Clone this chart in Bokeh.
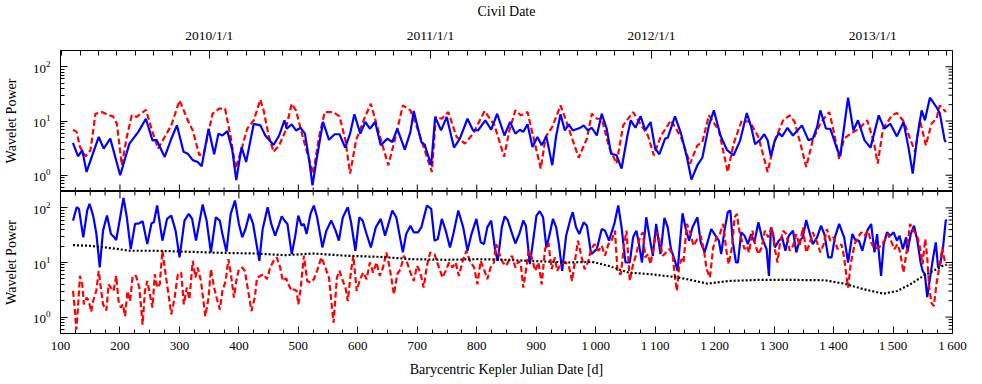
from bokeh.plotting import figure
from bokeh.models import Range1d, FixedTicker, LinearAxis, LogAxis
from bokeh.layouts import column
from bokeh.embed import file_html
from bokeh.resources import INLINE

FONT = "Liberation Serif"

# ---------------- data ----------------
x_ticks = [100, 200, 300, 400, 500, 600, 700, 800, 900, 1000, 1100, 1200, 1300, 1400, 1500, 1600]
x_minor_step = 25
civil_tick_days = [350, 722, 1094, 1466]
civil_tick_labels = ["2010/1/1", "2011/1/1", "2012/1/1", "2013/1/1"]
y_ticks = [1, 10, 100]

top_blue_day = [121, 129.4, 136.6, 143.8, 164.3, 172.6, 183.7, 200.4, 215.9, 230.9, 243.6, 254.7, 261.4, 275.2, 286.3, 295.8, 306.9, 314, 322.4, 330.7, 337.4, 349, 358.4, 365.6, 372.3, 380.6, 388.9, 395.6, 404.5, 412.2, 425, 436.1, 444.4, 458.3, 467.7, 476.6, 480.5, 488.8, 496, 503.8, 511, 518.2, 523.8, 530.4, 541.5, 551.5, 561, 569.2, 578.7, 587, 594.2, 604.2, 612.5, 620.3, 629.1, 638.6, 649.6, 658, 666.3, 679, 688.5, 694, 706.8, 712.3, 723.4, 730, 740, 749.5, 761.7, 771.6, 784.4, 793.8, 802.2, 814.4, 824.3, 834.3, 846.5, 856, 864.9, 872.6, 878.2, 885.4, 893.7, 902, 909.2, 917, 927, 933.6, 940.9, 948.1, 954.7, 961.4, 974.1, 979.7, 986.9, 993.5, 1001.9, 1010.2, 1018.5, 1025.7, 1035.1, 1043.5, 1053.4, 1059, 1066.8, 1075.6, 1083.4, 1092.3, 1100, 1107.2, 1116.7, 1121.1, 1133.3, 1143.3, 1153.3, 1161, 1171, 1179.3, 1190.4, 1198.7, 1209.8, 1220.9, 1232, 1243, 1254.1, 1261.4, 1268, 1276.3, 1283.5, 1289.1, 1294.6, 1301.3, 1308, 1313.5, 1322.4, 1331.8, 1346.8, 1357.9, 1365.1, 1372.3, 1377.8, 1387.3, 1394.5, 1406.7, 1411.1, 1418.9, 1424.4, 1433.3, 1441.1, 1452.1, 1462.1, 1476, 1485.4, 1495.4, 1506.5, 1517.6, 1525.9, 1533.1, 1540.9, 1548.1, 1553.6, 1562, 1573, 1578.6, 1586.9, 1589]
top_blue_pow = [3.94, 2.24, 2.88, 1.15, 5.08, 3.1, 4.73, 1.0, 3.83, 6.3, 11.0, 4.4, 4.5, 2.17, 4.7, 8.3, 2.7, 2.5, 1.9, 1.76, 1.46, 7.2, 2.44, 5.85, 5.4, 6.5, 2.88, 0.81, 3.3, 1.76, 8.9, 8.3, 5.4, 3.6, 5.4, 10.3, 7.2, 8.7, 6.7, 7.5, 5.85, 1.89, 0.65, 1.89, 9.6, 4.5, 5.7, 5.7, 3.23, 5.85, 13.3, 5.85, 9.6, 7.2, 9.6, 3.56, 4.73, 4.1, 7.2, 2.97, 6.3, 15.3, 4.1, 3.67, 1.53, 11.9, 6.7, 11.9, 3.23, 4.73, 11.0, 6.7, 6.7, 10.3, 6.9, 13.6, 5.4, 9.6, 5.85, 6.9, 6.3, 8.7, 3.33, 5.08, 3.56, 5.2, 1.53, 5.4, 13.3, 6.7, 8.7, 6.7, 7.5, 8.3, 6.7, 7.5, 5.4, 13.6, 7.2, 2.5, 2.33, 1.33, 5.4, 10.3, 7.5, 12.2, 6.7, 9.6, 3.1, 2.44, 4.73, 4.9, 12.2, 6.0, 2.17, 0.83, 1.53, 2.1, 8.3, 15.7, 5.4, 2.9, 2.33, 4.4, 14, 7.8, 3.72, 4.5, 5.7, 4.4, 2.24, 4.4, 6.0, 5.2, 7.5, 5.4, 8.3, 4.4, 4.73, 7.8, 15.7, 7.2, 7.2, 2.88, 2.24, 9.6, 26.9, 6.7, 10.3, 4.4, 3.23, 12.7, 7.2, 8.9, 5.2, 9.6, 3.3, 1.07, 5.2, 15.7, 10.3, 26.9, 18.1, 14, 4.4, 4.1]

top_red_day = [121, 127.2, 132.7, 142.1, 150.5, 158.8, 169.9, 181, 188.2, 194.8, 203.1, 211.5, 219.8, 228.1, 243.6, 254.7, 264.2, 275.2, 286.3, 300.2, 314.1, 322.4, 333.5, 341.8, 355.7, 366.8, 376.7, 386.2, 394.5, 405.6, 413.9, 425, 436.1, 441.6, 450, 458.3, 467.7, 477.7, 488.8, 496, 508.2, 524.9, 534.8, 544.3, 558.1, 569.2, 579.2, 587, 597, 610.8, 621.9, 635.8, 651.3, 663.5, 675.7, 688.5, 702.3, 724.5, 731.2, 741.2, 752.2, 766.1, 780, 793.8, 813.3, 829.9, 846, 854.9, 864.9, 874.3, 885.4, 896.5, 907.6, 915.9, 927, 940.9, 952, 971.4, 985.2, 993.5, 1001.9, 1010.2, 1022.4, 1035.1, 1046.2, 1062.9, 1071.2, 1087.8, 1097.8, 1110, 1126.6, 1143.3, 1158.8, 1171, 1179.3, 1190.4, 1207.1, 1222, 1232, 1245.8, 1259.7, 1273.6, 1289.1, 1301.3, 1315.2, 1326.2, 1334.6, 1345.7, 1354, 1365.1, 1378.9, 1392.8, 1401.1, 1409.4, 1417.8, 1428.8, 1442.7, 1456.6, 1467.7, 1474.3, 1483.2, 1498.2, 1506.5, 1517.6, 1528.7, 1537, 1545.3, 1555.3, 1564.7, 1573, 1578.6, 1589]
top_red_pow = [6.9, 6.3, 3.33, 2.24, 2.88, 13.6, 14.6, 12.7, 12.2, 8.9, 1.53, 5.08, 12.7, 11.9, 16.1, 6.3, 3.1, 5.08, 8.3, 24, 10.3, 6.7, 2.33, 2.7, 13.6, 16.9, 16.9, 5.08, 1.33, 3.33, 7.2, 10.3, 24.7, 15.7, 5.4, 2.7, 3.56, 6.3, 20.8, 15.7, 4.73, 1.07, 5.08, 14.6, 14.6, 12.2, 4.4, 1.07, 4.4, 11.0, 20.8, 5.85, 1.53, 5.08, 19.4, 15.7, 6.3, 1.15, 11.9, 11.0, 14.6, 5.08, 3.83, 5.85, 15.3, 8.3, 2.2, 6.7, 15.7, 12.7, 14.6, 4.4, 1.33, 5.08, 7.8, 19.4, 8.9, 2.1, 4.73, 13.6, 11.0, 11.0, 3.33, 1.64, 8.3, 14.6, 10.3, 5.4, 2.33, 5.4, 10.3, 5.08, 1.64, 3.56, 4.1, 12.7, 6.7, 1.15, 3.83, 10.3, 9.6, 5.08, 1.15, 4.4, 10.3, 12.7, 9.6, 3.33, 1.42, 4.4, 9.6, 14.6, 5.85, 2.02, 4.73, 5.85, 7.2, 10.3, 4.1, 1.64, 7.2, 12.7, 14, 10, 4.73, 2.7, 10.3, 3.56, 8.9, 11.0, 19.4, 14.6]

bot_blue_day = [121.1, 127.2, 131, 138.3, 144.9, 148.8, 154.9, 160.4, 166, 171.5, 178.2, 184.8, 190.4, 193.7, 200.4, 205.9, 211.5, 218.1, 225.3, 232.5, 238.1, 245.9, 253.1, 257, 262.5, 271.4, 279.1, 286.3, 293.5, 300.2, 308.5, 315.7, 321.3, 327.9, 339, 345.7, 352.9, 361.2, 367.9, 372.3, 379, 386.2, 393.4, 400, 405.6, 411.1, 417.8, 423.9, 434.4, 440, 448.3, 454.4, 461, 467.7, 472, 477.7, 481.6, 488.8, 494.4, 499.9, 505.4, 509.3, 513.8, 520.4, 526, 531.5, 540.4, 547, 555.4, 562.6, 568.1, 574.8, 583.1, 588.6, 595.9, 602.5, 608.1, 614.7, 621.9, 630.2, 638.6, 645.8, 658, 664.6, 675.7, 681.3, 688.5, 694, 701.2, 706.8, 716.2, 723.4, 729, 734.5, 741.2, 747.8, 755, 760.6, 768.9, 777.2, 784.4, 791.1, 799.4, 806.6, 812.1, 817.7, 824.3, 831, 835.4, 842.1, 847, 852, 857.7, 864.9, 871.5, 878.2, 882.6, 889.3, 894.8, 900.4, 905.9, 911.5, 917, 921.4, 928.1, 933.6, 938.1, 943.6, 950.3, 957.5, 961.4, 966.9, 972.5, 979.7, 985.2, 992.4, 1001.9, 1010.2, 1015.7, 1022.4, 1031.3, 1037.9, 1043.5, 1050.1, 1057.3, 1062.9, 1068.4, 1072.3, 1077.8, 1085, 1090.6, 1096.1, 1101.7, 1108.9, 1115.6, 1121.1, 1126.6, 1133.3, 1137.7, 1146, 1151.6, 1157.1, 1162.7, 1171, 1176.6, 1183.2, 1188.8, 1194.3, 1201.5, 1207.1, 1211, 1216.5, 1222.1, 1226.5, 1230.3, 1235.8, 1239.2, 1244.7, 1250.3, 1255.8, 1261.4, 1266.9, 1273.6, 1280.2, 1287.4, 1291.3, 1294.6, 1298.5, 1301.3, 1308, 1313.5, 1319, 1324.6, 1331.8, 1337.3, 1342.9, 1348.4, 1354, 1359.5, 1365.1, 1372.3, 1378.9, 1384.5, 1391.1, 1396.7, 1402.2, 1409.4, 1417.8, 1424.4, 1431.6, 1437.2, 1442.7, 1448.3, 1456.6, 1463.2, 1468.8, 1473.2, 1479.9, 1484.3, 1489.9, 1495.4, 1501, 1506.5, 1510.9, 1516.5, 1522, 1524.2, 1529.8, 1535.3, 1540.9, 1546.4, 1549.7, 1553.6, 1557.5, 1561.9, 1567.5, 1571.9, 1575.8, 1579.7, 1584.1, 1588.6, 1590.8]
bot_blue_pow = [58.5, 103, 95.7, 28.9, 89.6, 118.5, 72.3, 33.2, 8.1, 38.3, 72.3, 33.2, 28.9, 25.8, 67.3, 152.8, 67.3, 17.6, 50.8, 52.2, 56.9, 21.7, 52.2, 54.5, 110.4, 25.1, 62.8, 72.3, 38.3, 12.4, 58.5, 77.6, 62.8, 25.1, 114.8, 58.5, 15.3, 67.3, 58.5, 33.2, 15.9, 77.6, 136.5, 50.8, 28.9, 41.1, 77.6, 50.8, 10.7, 41.1, 103, 50.8, 31, 50, 70, 56.9, 50.8, 14.2, 28.9, 72.3, 47.3, 50.8, 33.2, 77.6, 110.4, 67.3, 18.9, 38.3, 58.5, 38.3, 25.1, 67.3, 103, 54.5, 16.4, 67.3, 58.5, 33.2, 18.9, 44, 62.8, 31, 89.6, 67.3, 15.3, 33.2, 47.3, 35.7, 35.7, 44, 110.4, 95.7, 25.1, 26.9, 62.8, 38.3, 18.9, 33.2, 89.6, 44, 16.4, 33.2, 62.8, 23.4, 21.7, 44, 58.5, 16.4, 10.7, 44, 70, 60, 38.3, 22.3, 33.2, 58.5, 47.3, 9.3, 25.1, 72.3, 86.8, 67.3, 18.9, 28.9, 62.8, 44, 21.7, 7.03, 31, 62.8, 83.3, 44, 33.2, 54.5, 47.3, 14.2, 17.6, 41.1, 38.3, 25.1, 50.8, 110.4, 44, 10, 10, 28.9, 38.3, 23.4, 10, 67.3, 28.9, 13.2, 50.8, 14.2, 65.4, 44, 17.6, 10.7, 7.03, 79.8, 41.1, 25.1, 44, 67.3, 23.4, 15.3, 25.1, 41.1, 31, 25.1, 14.2, 38.3, 83.3, 89.6, 25.1, 10, 10, 35.7, 31, 21.7, 33.2, 23.4, 54.5, 26.9, 17.6, 5.67, 44, 33.2, 18.9, 25.1, 28.9, 16.4, 31, 38.3, 15.3, 25.1, 28.9, 60, 35.7, 21.7, 28.9, 47.3, 33.2, 12.4, 12.4, 28.9, 50.8, 28.9, 10, 33.2, 25.1, 25.1, 16.4, 38.3, 50.8, 15.3, 33.2, 5.67, 21.7, 35.7, 31, 35.7, 25.1, 31, 17.6, 28.9, 15.3, 33.2, 47.3, 25.1, 10, 7.03, 6.1, 2.33, 4.94, 12.4, 23.4, 8.1, 9.6, 18.9, 58.5, 60]

bot_red_day = [121.1, 123.8, 126.6, 129.4, 132.7, 136.6, 139.4, 143.8, 147.7, 151.6, 154.9, 160.4, 164.3, 167.1, 171.5, 177.1, 181, 184.8, 189.3, 193.7, 197.6, 201.5, 204.8, 208.7, 212.6, 217, 221.4, 227, 232.5, 238.1, 242, 245.9, 250.3, 254.7, 258.6, 262.5, 266.9, 271.4, 275.2, 280.8, 286.3, 291.9, 297.4, 303, 307.4, 312.4, 316.8, 322.4, 326.8, 330.7, 336.2, 343.5, 349, 352.9, 358.4, 364, 367.9, 372.3, 377.8, 382.3, 386.2, 391.7, 395.6, 400, 405.6, 410, 415.6, 421.1, 426.7, 430.5, 436.1, 441.6, 447.2, 452.7, 458.3, 463.8, 469.4, 473.8, 479.4, 483.3, 488.8, 492.7, 497.1, 499.9, 503.8, 509.3, 514.9, 520.4, 526, 531.5, 538.7, 544.3, 551.5, 555.4, 559.2, 564.8, 569.2, 573.7, 579.2, 583.1, 588.6, 592.5, 598.1, 603.6, 609.2, 614.7, 620.3, 625.8, 631.3, 636.9, 642.4, 648, 653.5, 660.7, 666.3, 671.8, 677.4, 682.9, 688.5, 694, 699.6, 705.1, 710.7, 716.2, 721.7, 729, 734.5, 742.3, 747.8, 753.4, 758.9, 764.4, 770, 777.2, 782.8, 788.3, 795.5, 801.1, 806.6, 812.1, 817.7, 823.2, 828.8, 832.7, 838.2, 843.8, 849.3, 853.8, 859.3, 864.9, 870.4, 874.3, 878.2, 882.6, 887.1, 892.6, 898.2, 903.7, 909.2, 914.8, 920.3, 925.9, 931.4, 935.3, 940.9, 949.2, 954.7, 960.3, 964.7, 970.2, 975.8, 981.3, 986.9, 992.4, 998, 1004.6, 1010.2, 1015.7, 1021.3, 1026.8, 1032.4, 1036.8, 1042.3, 1047.9, 1051.8, 1057.3, 1062.9, 1068.4, 1074, 1079.5, 1083.4, 1087.8, 1092.3, 1097.8, 1103.4, 1107.2, 1112.8, 1118.3, 1123.9, 1129.4, 1133.3, 1136.6, 1140.5, 1144.4, 1147.7, 1153.3, 1158.8, 1164.4, 1171, 1176.6, 1182.1, 1186.5, 1192.1, 1197.6, 1203.2, 1208.7, 1214.3, 1219.8, 1223.6, 1229.2, 1233.6, 1237.5, 1241.4, 1245.8, 1250.3, 1254.1, 1258, 1263.6, 1268, 1273.6, 1279.1, 1284.6, 1290.2, 1295.7, 1301.3, 1305.7, 1309.6, 1315.2, 1320.7, 1326.2, 1331.8, 1337.3, 1342.9, 1348.4, 1354, 1359.5, 1365.1, 1372.3, 1377.8, 1383.4, 1388.9, 1394.5, 1400, 1406.7, 1413.3, 1417.8, 1420.5, 1424.4, 1428.8, 1435.5, 1441.1, 1446.6, 1452.1, 1457.7, 1463.2, 1468.8, 1474.3, 1479.9, 1485.4, 1491, 1496.5, 1502.1, 1507.6, 1512, 1517.6, 1523.1, 1528.7, 1534.2, 1539.8, 1545.3, 1549.7, 1554.2, 1557.5, 1560.8, 1564.7, 1568.6, 1573, 1578.6, 1583, 1586.9, 1589.7]
bot_red_pow = [3.01, 1.49, 0.59, 1.49, 5.68, 3.99, 1.71, 2.27, 1.97, 1.25, 1.97, 3.1, 7.03, 3.99, 1.71, 1.33, 3.99, 3.47, 3.01, 5.68, 1.97, 1.49, 1.71, 1.04, 3.01, 1.97, 5.68, 5.68, 3.47, 0.73, 3.01, 4.6, 2.61, 1.49, 6.1, 3.47, 3.99, 16.4, 8.1, 3.01, 1.12, 2.27, 6.1, 6.55, 1.71, 3.47, 2.11, 10.7, 5.3, 8.1, 4.6, 1.04, 2.27, 7.54, 3.47, 1.97, 1.38, 3.01, 4.6, 11.5, 6.55, 2.27, 4.6, 7.54, 8.1, 7.03, 3.01, 1.29, 2.27, 5.3, 5.68, 6.1, 4.94, 8.1, 10.7, 12.4, 8.1, 4.6, 5.15, 3.99, 3.01, 3.23, 3.01, 1.71, 3.23, 13.3, 4.6, 4.28, 4.94, 7.03, 12.4, 8.7, 5.3, 1.97, 0.79, 5.3, 7.03, 4.94, 3.47, 1.97, 7.03, 13.3, 3.01, 4.94, 6.55, 4.94, 10, 6.55, 10, 5.68, 8.1, 15.3, 8.1, 2.61, 6.1, 7.54, 13.3, 10, 6.55, 4.6, 8.7, 6.55, 3.47, 8.7, 15.3, 14.2, 9.3, 5.3, 7.03, 10, 8.1, 10, 5.68, 11.5, 16.4, 10.7, 8.1, 3.99, 10.7, 7.54, 4.94, 8.1, 10, 21.7, 14.2, 10, 8.7, 10.7, 13.3, 8.1, 10.7, 8.7, 3.47, 7.03, 16.4, 12.4, 7.03, 10, 3.99, 17.6, 23.4, 7.54, 12.4, 7.03, 9.3, 10, 8.7, 4.6, 10, 25.1, 13.3, 7.54, 10, 17.6, 21.7, 16.4, 20.2, 13.3, 21.7, 25.1, 38.3, 6.55, 6.1, 21.7, 38.3, 4.6, 9.3, 14.2, 28.9, 35.7, 12.4, 14.2, 9.3, 21.7, 35.7, 25.1, 13.3, 15.3, 17.6, 14.2, 5.3, 3.01, 8.7, 11.5, 10, 50.8, 35.7, 20.2, 26.9, 31, 16.4, 7.54, 5.3, 18.9, 28.9, 33.2, 50.8, 16.4, 9.3, 18.9, 67.3, 77.6, 38.3, 25.1, 17.6, 20.2, 15.3, 38.3, 21.7, 14.2, 18.9, 38.3, 28.9, 44, 17.6, 10, 21.7, 38.3, 33.2, 16.4, 20.2, 33.2, 20.2, 44, 15.3, 21.7, 35.7, 23.4, 15.3, 21.7, 41.1, 25.1, 28.9, 17.6, 21.7, 12.4, 7.03, 3.47, 9.3, 21.7, 28.9, 35.7, 31, 38.3, 23.4, 17.6, 18.9, 20.2, 25.1, 33.2, 25.1, 17.6, 21.7, 15.3, 6.55, 16.4, 50.8, 38.3, 33.2, 18.9, 9.3, 26.9, 12.4, 3.47, 1.83, 1.59, 3.99, 9.3, 18.9, 10.7, 8.7]

bot_black_day = [121, 150, 184, 217, 261, 317, 372, 428, 478, 525, 580, 636, 691, 747, 802, 852, 888, 955, 994, 1021, 1055, 1093, 1132, 1154, 1188, 1226, 1274, 1329, 1385, 1418, 1451, 1484, 1507, 1529, 1551, 1573, 1587]
bot_black_pow = [20.8, 20.2, 18.4, 16.4, 16.4, 15.7, 15.0, 14.6, 13.6, 14.6, 13.3, 12.7, 11.5, 11.2, 11.5, 11.2, 10.7, 10.0, 10.3, 8.7, 6.55, 6.1, 5.45, 4.94, 4.1, 4.6, 4.8, 4.8, 4.73, 4.1, 3.23, 2.69, 3.01, 3.99, 5.68, 7.54, 9.1]

# ---------------- derived tick sets ----------------
x_tick_labels = {t: (f"{t:,}".replace(",", "\u2009")) for t in x_ticks}
x_minor = [x_ticks[0] + x_minor_step * k for k in range(int((x_ticks[-1] - x_ticks[0]) / x_minor_step) + 1)]
x_minor_only = [m for m in x_minor if m not in x_ticks]
month = (civil_tick_days[-1] - civil_tick_days[0]) / (12 * (len(civil_tick_days) - 1))
civil_minor = [civil_tick_days[0] + month * k for k in range(-8, 12 * len(civil_tick_days))]
civil_minor = [m for m in civil_minor if 100 <= m <= 1600]
y_minor = [m * 10.0 ** e for e in range(-1, 3) for m in range(2, 10)]

X0, X1 = 100, 1600
LOG0, LOG1 = -0.3, 2.3
Y0, Y1 = 10 ** LOG0, 10 ** LOG1
LEFT, RIGHT = 50, 15
FRAME_W = 892
TOP1, FRAME_H1 = 42, 141
FRAME_H2, BOT2 = 142, 43
MAJ, MIN = 7, 4          # tick lengths in px

BLUE, RED = "#0000ff", "#ff0000"


def style_axis(ax, major_in=MAJ, minor_in=MIN, size="13px"):
    ax.major_tick_in = major_in
    ax.major_tick_out = 0
    ax.minor_tick_in = minor_in
    ax.minor_tick_out = 0
    ax.axis_line_color = "black"
    ax.major_tick_line_color = "black"
    ax.minor_tick_line_color = "black"
    ax.major_label_text_font = FONT
    ax.major_label_text_font_size = size
    ax.major_label_text_color = "black"
    ax.major_label_standoff = 7
    ax.axis_label_text_font = FONT
    ax.axis_label_text_font_size = "14px"
    ax.axis_label_text_font_style = "normal"
    ax.axis_label_text_color = "black"


def mirror_y_ticks(p):
    # tick marks on the right edge of the frame (mirror of the left axis)
    dx_per_px = (X1 - X0) / FRAME_W
    for vals, ln in ((y_ticks, MAJ), (y_minor, MIN)):
        vals = [v for v in vals if Y0 <= v <= Y1]
        p.segment(x0=[X1] * len(vals), x1=[X1 - ln * dx_per_px] * len(vals),
                  y0=vals, y1=vals, line_color="black", line_width=1)


def mirror_x_ticks(p, frame_h, at_top):
    dlog_per_px = (LOG1 - LOG0) / frame_h
    for vals, ln in ((x_ticks, MAJ), (x_minor_only, MIN)):
        if at_top:
            y0, y1 = Y1, 10 ** (LOG1 - ln * dlog_per_px)
        else:
            y0, y1 = Y0, 10 ** (LOG0 + ln * dlog_per_px)
        p.segment(x0=vals, x1=vals, y0=[y0] * len(vals), y1=[y1] * len(vals),
                  line_color="black", line_width=1)


def make_fig(frame_h, top_border, bottom_border):
    p = figure(frame_width=FRAME_W, frame_height=frame_h,
               x_range=Range1d(X0, X1), y_range=Range1d(Y0, Y1),
               y_axis_type="log", x_axis_location=None, y_axis_location=None,
               output_backend="svg", toolbar_location=None,
               min_border_left=LEFT, min_border_right=RIGHT,
               min_border_top=top_border, min_border_bottom=bottom_border)
    p.xgrid.visible = False
    p.ygrid.visible = False
    p.outline_line_color = "black"
    p.outline_line_width = 1
    p.background_fill_color = "white"
    p.border_fill_color = "white"
    yl = LogAxis(ticker=FixedTicker(ticks=y_ticks, minor_ticks=y_minor), axis_label="Wavelet Power")
    style_axis(yl)
    yl.major_label_standoff = 10
    yl.axis_label_standoff = 11
    p.add_layout(yl, "left")
    mirror_y_ticks(p)
    return p


# ---------------- top panel ----------------
p1 = make_fig(FRAME_H1, TOP1, 0)
civ = LinearAxis(ticker=FixedTicker(ticks=civil_tick_days, minor_ticks=civil_minor),
                 major_label_overrides=dict(zip(civil_tick_days, civil_tick_labels)),
                 axis_label="Civil Date")
style_axis(civ, major_in=8, minor_in=5, size="13.5px")
civ.major_label_standoff = 8
civ.axis_label_standoff = 6
p1.add_layout(civ, "above")
mirror_x_ticks(p1, FRAME_H1, at_top=False)

p1.line(top_red_day, top_red_pow, line_color=RED, line_width=2.2, line_dash="6 3")
p1.line(top_blue_day, top_blue_pow, line_color=BLUE, line_width=2.2)

# ---------------- bottom panel ----------------
p2 = make_fig(FRAME_H2, 0, BOT2)
mirror_x_ticks(p2, FRAME_H2, at_top=True)
xb2 = LinearAxis(ticker=FixedTicker(ticks=x_ticks, minor_ticks=x_minor),
                 major_label_overrides=x_tick_labels,
                 axis_label="Barycentric Kepler Julian Date [d]")
style_axis(xb2)
xb2.major_label_standoff = 4
xb2.axis_label_standoff = 6
p2.add_layout(xb2, "below")

p2.line(bot_blue_day, bot_blue_pow, line_color=BLUE, line_width=2.2)
p2.line(bot_red_day, bot_red_pow, line_color=RED, line_width=2.2, line_dash="6 3")
p2.line(bot_black_day, bot_black_pow, line_color="black", line_width=2.2, line_dash="2 2")

layout = column(p1, p2, spacing=0)
open("out.html", "w").write(file_html(layout, INLINE))
